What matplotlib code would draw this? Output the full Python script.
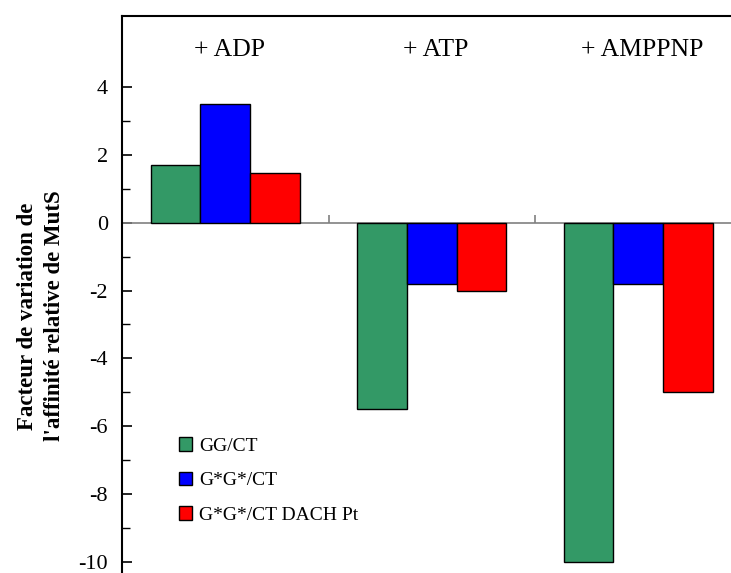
import matplotlib.pyplot as plt
import numpy as np
from matplotlib.patches import Patch

plt.rcParams['font.family'] = ['Liberation Serif', 'DejaVu Serif']

groups = ["+ ADP", "+ ATP", "+ AMPPNP"]
series = ["GG/CT", "G*G*/CT", "G*G*/CT DACH Pt"]
gg_ct = [1.7, -5.5, -10.0]
gg_star = [3.5, -1.8, -1.8]
gg_dach = [1.48, -2.0, -5.0]
colors = ["#339966", "#0000FF", "#FF0000"]

W, H = 731, 573
fig = plt.figure(figsize=(W / 100, H / 100), dpi=100)

# axes placed in pixels, slightly cropped at the right and bottom like the original
ymin, ymax = -10.5, 6.1
px_unit = 33.9
top_px = 16
bot_px = top_px + (ymax - ymin) * px_unit
left_px, right_px = 122, 741.5
ax = fig.add_axes([left_px / W, 1 - bot_px / H, (right_px - left_px) / W, (bot_px - top_px) / H])

x = np.arange(len(groups))
w = 0.24
for i, (vals, c) in enumerate(zip([gg_ct, gg_star, gg_dach], colors)):
    ax.bar(x + (i - 1) * w, vals, w, color=c, edgecolor="black", linewidth=1.0, zorder=3)

ax.set_xlim(-0.5, 2.5)
ax.set_ylim(ymin, ymax)

# zero axis in grey with small ticks between groups
ax.spines['bottom'].set_position(('data', 0))
ax.spines['bottom'].set_color('#808080')
ax.spines['bottom'].set_linewidth(1.2)
ax.spines['bottom'].set_zorder(2)
ax.spines['right'].set_visible(False)
ax.spines['top'].set_linewidth(1.5)
ax.spines['left'].set_linewidth(1.5)
ax.set_xticks([0.5, 1.5])
ax.set_xticklabels([])
ax.tick_params(axis='x', direction='in', length=6, width=1.2, color='#808080')

ax.set_yticks(np.arange(-10, 5, 2))
ax.set_yticks(np.arange(-10, 5, 1), minor=True)
ax.tick_params(axis='y', which='major', direction='in', length=7, width=1.2,
               labelsize=16, pad=10)
ax.tick_params(axis='y', which='minor', direction='in', length=6, width=1.0)
ax.set_yticklabels([str(v) for v in np.arange(-10, 5, 2)])

for xi, g in zip(x, groups):
    ax.text(xi + 0.02, 5.1, g, ha='center', va='center', fontsize=18.5)

fig.text(0.056, 1 - 316 / H, "Facteur de variation de\nl'affinité relative de MutS",
         rotation=90, ha='center', va='center', fontsize=16.5, fontweight='bold',
         linespacing=1.35)

handles = [Patch(facecolor=c, edgecolor='black', linewidth=1.0) for c in colors]
ax.legend(handles, series, loc='upper left', bbox_to_anchor=(0.063, 0.283),
          frameon=False, fontsize=14, handlelength=0.7, handleheight=0.7,
          handletextpad=0.35, labelspacing=0.88)

fig.savefig("out.png", dpi=100)
